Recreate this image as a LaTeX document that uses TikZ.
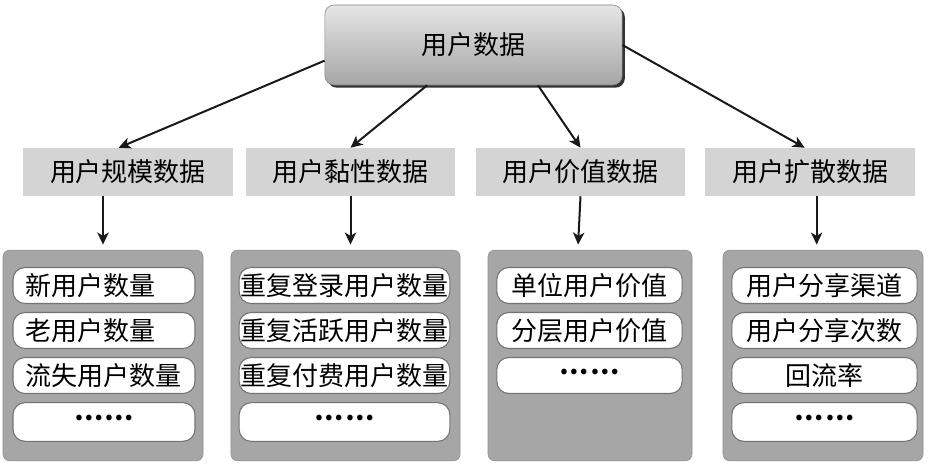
\documentclass[tikz,border=0pt]{standalone}
\usepackage{fontspec}
\newfontfamily\cjk{Noto Sans CJK SC}
\usetikzlibrary{shadows,arrows.meta}

\begin{document}
\begin{tikzpicture}[x=0.75pt,y=-0.75pt,
    font=\cjk\fontsize{19.5}{23}\selectfont,
    topbox/.style={rounded corners=7pt, top color=black!10, bottom color=black!35,
      draw=black!50, minimum width=223pt, minimum height=60pt,
      drop shadow={shadow xshift=2pt, shadow yshift=-2pt, fill=black!80, opacity=1}},
    catbox/.style={fill=black!17, minimum width=157pt, minimum height=36pt, inner sep=0pt},
    panel/.style={rounded corners=5pt, fill=black!35, draw=black!45,
      minimum width=#1, minimum height=158pt},
    entry/.style={rounded corners=9pt, fill=white, draw=black!55, line width=0.8pt,
      minimum width=#1, minimum height=27pt, inner sep=0pt},
    link/.style={-{Stealth[length=9pt, width=8.5pt, inset=2.5pt]}, line width=1.5pt, black!90}
  ]

  % Page frame (932 x 465 px)
  \useasboundingbox (0,0) rectangle (932,465);

  % Rows of the entries
  \pgfmathsetmacro{\rowa}{285.5}
  \pgfmathsetmacro{\rowb}{330.5}
  \pgfmathsetmacro{\rowc}{375.5}
  \pgfmathsetmacro{\rowd}{422}

  % Dots of an open entry
  \newcommand{\moredots}{\raisebox{0.3em}{\bfseries …\kern1pt…}}

  % Root node
  \node[topbox] (user) at (473.5,45) {用户数据};

  % The four kinds of data
  \node[catbox] (scale) at (128,172) {用户规模数据};
  \node[catbox] (stick) at (350.5,172) {用户黏性数据};
  \node[catbox] (worth) at (580.5,172) {用户价值数据};
  \node[catbox] (spread) at (810,172) {用户扩散数据};

  \draw[link] (user.186) -- ([xshift=-7pt]scale.north);
  \draw[link] (user.221) -- (stick.north);
  \draw[link] (user.328) -- (worth.north);
  \draw[link] (user.east) -- ([xshift=-4pt]spread.north);

  % Panels
  \node[panel=150pt] (pscale) at (103,355.5) {};
  \node[panel=172pt] (pstick) at (345.5,355.5) {};
  \node[panel=153pt] (pworth) at (590,355.5) {};
  \node[panel=150pt] (pspread) at (823,355.5) {};

  \draw[link, shorten >=4pt] (scale.south -| pscale.north) -- (pscale.north);
  \draw[link, shorten >=4pt] (stick.south) -- (stick.south |- pstick.north);
  \draw[link, shorten >=4pt] (worth.south) -- ([xshift=-2pt]worth.south |- pworth.north);
  \draw[link, shorten >=4pt] ([xshift=5pt]spread.south) -- ([xshift=5pt]spread.south |- pspread.north);

  % Entries of the scale panel
  \node[entry=136.5pt, text width=118pt, align=left] (sa) at (104,\rowa) {新用户数量};
  \node[entry=136.5pt, text width=118pt, align=left] (sb) at (104,\rowb) {老用户数量};
  \node[entry=136.5pt, text width=118pt, align=left] (sc) at (104,\rowc) {流失用户数量};
  \node[entry=136.5pt, minimum height=29pt] (sd) at (104,\rowd) {\moredots};

  % Entries of the stickiness panel
  \node[entry=158pt] (ta) at (344.5,\rowa) {重复登录用户数量};
  \node[entry=158pt] (tb) at (344.5,\rowb) {重复活跃用户数量};
  \node[entry=158pt] (tc) at (344.5,\rowc) {重复付费用户数量};
  \node[entry=158pt, minimum height=29pt] (td) at (344.5,\rowd) {\moredots};

  % Entries of the value panel
  \node[entry=139pt] (wa) at (589.5,\rowa) {单位用户价值};
  \node[entry=139pt] (wb) at (589.5,\rowb) {分层用户价值};
  \node[entry=139pt] (wc) at (589.5,\rowc) {\moredots};

  % Entries of the spread panel
  \node[entry=139pt] (da) at (824.5,\rowa) {用户分享渠道};
  \node[entry=139pt] (db) at (824.5,\rowb) {用户分享次数};
  \node[entry=139pt] (dc) at (824.5,\rowc) {回流率};
  \node[entry=139pt, minimum height=29pt] (dd) at (824.5,\rowd) {\moredots};

\end{tikzpicture}
\end{document}
